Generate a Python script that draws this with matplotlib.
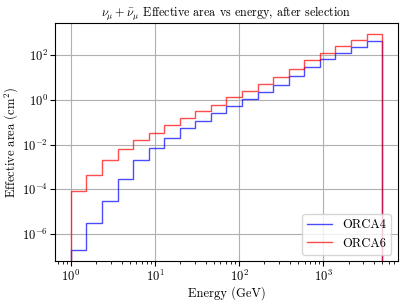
import numpy as np
import matplotlib
matplotlib.use("Agg")
import matplotlib.pyplot as plt
from matplotlib.lines import Line2D

plt.rcParams["font.family"] = "serif"
plt.rcParams["font.serif"] = ["cmr10", "DejaVu Serif"]
plt.rcParams["mathtext.fontset"] = "cm"
plt.rcParams["axes.formatter.use_mathtext"] = True

# energy bin edges (GeV), 20 log bins from 1 to 5000
edges = np.logspace(0, np.log10(5000), 21)

# effective area per bin (cm^2)
orca4 = [2.0e-7, 3.0e-6, 3.0e-5, 3.0e-4, 2.0e-3, 7.2e-3, 2.0e-2, 5.4e-2, 0.12, 0.25,
         0.54, 1.1, 2.3, 4.7, 12, 31, 66, 132, 245, 457]
orca6 = [8.5e-5, 4.5e-4, 2.0e-3, 6.2e-3, 1.55e-2, 3.4e-2, 7.4e-2, 0.15, 0.31, 0.62,
         1.3, 2.6, 5.4, 10.5, 25, 65, 132, 269, 490, 890]

fig = plt.figure(figsize=(4.07, 3.05), dpi=100)
ax = fig.add_axes([0.136, 0.145, 0.841, 0.779])

centers = np.sqrt(edges[:-1] * edges[1:])
ax.hist(centers, bins=edges, weights=orca4, histtype="step", color="blue",
        alpha=0.7, lw=1.0, log=True)
ax.hist(centers, bins=edges, weights=orca6, histtype="step", color="red",
        alpha=0.7, lw=1.0, log=True)

ax.set_xscale("log")
ax.set_yscale("log")
ax.set_ylim(10**-7.2, 10**3.44)
ax.set_yticks([1e-6, 1e-4, 1e-2, 1e0, 1e2])
ax.grid(True)
ax.set_title(r"$\nu_\mu + \bar{\nu}_\mu$ Effective area vs energy, after selection",
             fontsize=8.7, pad=4)
ax.set_xlabel("Energy (GeV)", fontsize=9, labelpad=2)
ax.set_ylabel("Effective area (cm$^2$)", fontsize=9, labelpad=1)
ax.tick_params(labelsize=9, pad=2)

handles = [Line2D([], [], color="blue", alpha=0.7, lw=1.0),
           Line2D([], [], color="red", alpha=0.7, lw=1.0)]
ax.legend(handles, ["ORCA4", "ORCA6"], loc="lower right", fontsize=9)

fig.savefig("out.png", dpi=100)
